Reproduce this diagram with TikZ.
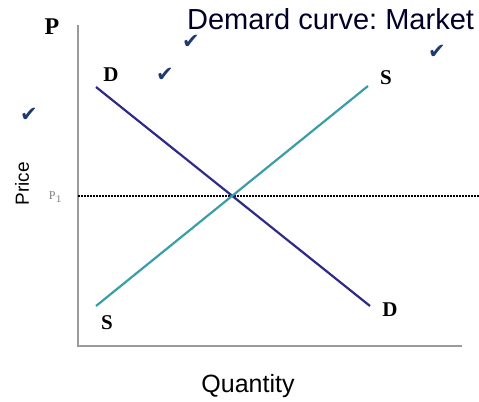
\documentclass[tikz,border=0pt]{standalone}
\usepackage{fontspec}
\setmainfont{Liberation Serif}
\setsansfont{Liberation Sans}
\newfontfamily\symfont{DejaVu Sans}
\usepackage{xcolor}
\definecolor{demandblue}{HTML}{2E2A86}
\definecolor{supplyteal}{HTML}{3A9EA6}
\definecolor{tickblue}{HTML}{1F3A6E}
\definecolor{axisgray}{HTML}{9A9A9A}
\newcommand{\tick}{{\symfont\char"2714}}
\frenchspacing

\begin{document}
\begin{tikzpicture}[x=0.5pt, y=-0.5pt, line width=1. pt]
    \useasboundingbox (0,0) rectangle (479,402);
    \tikzset{curvelab/.style={font=\fontsize{10.5}{12}\selectfont\bfseries}, checkmark/.style={text=tickblue, font=\fontsize{10.5}{12}\selectfont}}
    \coordinate (ytop) at (78,25);
    \coordinate (o) at (78,346);
    \coordinate (xend) at (462,346);
    \coordinate (p1) at (78,196);
    \coordinate (p1end) at (479,196);
    \coordinate (d1) at (96,87);
    \coordinate (d2) at (370,306);
    \coordinate (s1) at (96,306);
    \coordinate (s2) at (368,86);
    \draw[axisgray, line width=0.8pt] (ytop) -- (o) -- (xend);
    \draw[black, dash pattern=on 0.9pt off 0.6pt, line width=1.2pt] (p1) -- (p1end);
    \draw[demandblue, line width=1.1pt] (d1) -- (d2);
    \draw[supplyteal, line width=1.1pt] (s1) -- (s2);
    \node[font=\fontsize{12}{14}\selectfont\bfseries] (plab) at (52,27) {P};
    \node[font=\fontsize{14.5}{16}\selectfont\sffamily, text=black!85!blue, anchor=east, inner sep=0pt] (title) at (475,19) {Demard curve: Market};
    \node[curvelab] (dtop) at (111,75) {D};
    \node[curvelab] (stop) at (386,78) {S};
    \node[curvelab] (sbot) at (107,323) {S};
    \node[curvelab] (dbot) at (390,310) {D};
    \node[font=\fontsize{6}{7}\selectfont, text=gray] (p1lab) at (56,197) {P$_1$};
    \node[font=\fontsize{9.5}{11}\selectfont\sffamily, rotate=90] (price) at (22,184) {Price};
    \node[font=\fontsize{12.5}{14}\selectfont\sffamily] (qty) at (248,386) {Quantity};
    \node[checkmark] (ck1) at (191,42) {\tick};
    \node[checkmark] (ck2) at (165,75) {\tick};
    \node[checkmark] (ck3) at (437,52) {\tick};
    \node[checkmark] (ck4) at (29,115) {\tick};
\end{tikzpicture}
\end{document}
